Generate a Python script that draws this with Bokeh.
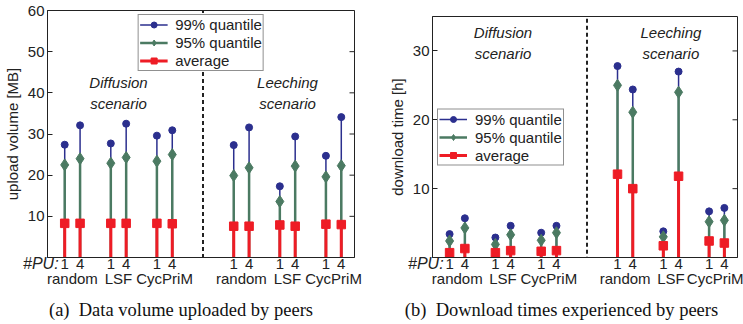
from bokeh.plotting import figure
from bokeh.models import (ColumnDataSource, FixedTicker, LinearAxis, Range1d, Legend,
                          LegendItem, Arrow, Div)
from bokeh.layouts import row, column
from bokeh.core.properties import value
from bokeh.embed import file_html
from bokeh.resources import INLINE

# ---------------- data ----------------
scenarios = ["Diffusion\nscenario", "Leeching\nscenario"]
groups = ["random", "LSF", "CycPriM"]
pu_labels = ["1", "4"]
pu_title = "#PU:"

# (a) upload volume [MB]; order: Diffusion(random1,random4,LSF1,LSF4,Cyc1,Cyc4), Leeching(...)
up_q99 = [27.4, 32.1, 27.7, 32.5, 29.6, 30.9, 27.3, 31.6, 17.3, 29.4, 24.7, 34.1]
up_q95 = [22.5, 24.0, 22.9, 24.3, 23.4, 25.0, 19.9, 21.8, 13.6, 22.2, 19.6, 22.3]
up_avg = [8.3, 8.3, 8.3, 8.3, 8.3, 8.2, 7.6, 7.6, 7.9, 7.6, 8.1, 8.0]

# (b) download time [h]
dl_q99 = [3.4, 5.7, 2.9, 4.6, 3.6, 4.6, 27.8, 24.4, 3.8, 27.0, 6.7, 7.2]
dl_q95 = [2.4, 4.3, 1.9, 3.3, 2.5, 3.6, 25.0, 21.1, 3.0, 24.0, 5.2, 5.4]
dl_avg = [0.7, 1.3, 0.7, 1.0, 0.9, 1.0, 12.1, 10.0, 1.7, 11.8, 2.4, 2.1]

series_names = ["99% quantile", "95% quantile", "average"]
up_yticks = [10, 20, 30, 40, 50, 60]
dl_yticks = [10, 20, 30]
captions = ["(a)&ensp;Data volume uploaded by peers",
            "(b)&ensp;Download times experienced by peers"]

FONT = "Liberation Sans"
SERIF = "Liberation Serif"
BLUE = "#2b2f8e"
GREEN = "#4b7a62"
RED = "#ee1c25"
INK = "#222222"

X0, X1 = -0.12, 19.86
FIG_H = 296
CAP_H = 324 - FIG_H

# slot positions (layout)
xs, pu_of = [], []
for s in range(len(scenarios)):
    for g in range(len(groups)):
        for k in range(len(pu_labels)):
            xs.append(1 + 11 * s + 3 * g + k)
            pu_of.append(pu_labels[k])
centers, center_names = [], []
for s in range(len(scenarios)):
    for g in range(len(groups)):
        centers.append(1 + 11 * s + 3 * g + 0.5)
        center_names.append(groups[g])
divider_x = (xs[5] + xs[6]) / 2.0
scen_x = [centers[1], centers[4]]


def panel(q99, q95, avg, ymax, yticks, ylabel, width, bl, br, bt,
          legend_loc, legend_margin, scen_y, div_bottom):
    p = figure(width=width, height=FIG_H, output_backend="svg", toolbar_location=None,
               x_range=Range1d(X0, X1), y_range=Range1d(0, ymax),
               min_border_left=bl, min_border_right=br, min_border_top=bt,
               min_border_bottom=39)
    p.xgrid.visible = False
    p.ygrid.visible = False
    p.outline_line_color = INK
    p.outline_line_width = 1
    p.background_fill_color = "white"
    p.border_fill_color = "white"

    src = ColumnDataSource(dict(x=xs, y0=[0] * len(xs), q99=q99, q95=q95, avg=avg))
    s99 = p.segment(x0="x", y0="y0", x1="x", y1="q99", source=src, line_color=BLUE, line_width=1.5)
    m99 = p.scatter(x="x", y="q99", source=src, marker="circle", size=7,
                    fill_color=BLUE, line_color=BLUE)
    s95 = p.segment(x0="x", y0="y0", x1="x", y1="q95", source=src, line_color=GREEN, line_width=2.5)
    m95 = p.scatter(x="x", y="q95", source=src, marker="diamond", size=12,
                    fill_color=GREEN, line_color=GREEN)
    sav = p.segment(x0="x", y0="y0", x1="x", y1="avg", source=src, line_color=RED, line_width=3)
    mav = p.scatter(x="x", y="avg", source=src, marker="square", size=8.5,
                    fill_color=RED, line_color=RED)

    # right-side inward tick marks (half of a dash clipped by the frame)
    tk = ColumnDataSource(dict(x=[X1] * len(yticks), y=yticks))
    p.scatter(x="x", y="y", source=tk, marker="dash", size=10, line_color=INK, line_width=1)

    # scenario labels
    tsrc = ColumnDataSource(dict(x=scen_x, y=[scen_y] * 2, t=scenarios))
    p.text(x="x", y="y", text="t", source=tsrc, text_font=value(FONT),
           text_font_size="15px", text_font_style="italic", text_align="center",
           text_baseline="middle", text_line_height=1.25, text_color=INK)

    # y axis
    ya = p.yaxis[0]
    ya.ticker = FixedTicker(ticks=yticks)
    ya.axis_label = ylabel
    ya.axis_label_text_font = FONT
    ya.axis_label_text_font_size = "15px"
    ya.axis_label_text_font_style = "normal"
    ya.axis_label_standoff = 4
    ya.major_label_text_font = FONT
    ya.major_label_text_font_size = "15px"
    ya.major_label_standoff = 3
    ya.major_tick_in = 5
    ya.major_tick_out = 0
    ya.minor_tick_line_color = None
    ya.axis_line_color = INK
    ya.major_tick_line_color = INK
    ya.major_label_text_color = INK
    ya.axis_label_text_color = INK

    # x axes: PU labels, "#PU:" (same row), then group names
    xa = p.xaxis[0]
    xa.ticker = FixedTicker(ticks=xs)
    xa.major_label_overrides = {x: t for x, t in zip(xs, pu_of)}
    xa.major_tick_in = 0
    xa.major_tick_out = 0
    xa.minor_tick_line_color = None
    xa.major_label_standoff = 1
    xa.major_label_text_font = FONT
    xa.major_label_text_font_size = "15px"
    xa.major_label_text_color = INK
    xa.axis_line_color = INK

    pu_tick = X0 + 0.001
    xp = LinearAxis(ticker=FixedTicker(ticks=[pu_tick]),
                    major_label_overrides={pu_tick: pu_title + "\u00a0\u00a0\u00a0"},
                    major_tick_in=0, major_tick_out=0, minor_tick_line_color=None,
                    axis_line_color=None, major_label_standoff=-17,
                    major_label_text_font=FONT, major_label_text_font_size="16px",
                    major_label_text_font_style="italic", major_label_text_color=INK)
    p.add_layout(xp, "below")

    xg = LinearAxis(ticker=FixedTicker(ticks=centers),
                    major_label_overrides={c: n for c, n in zip(centers, center_names)},
                    major_tick_in=0, major_tick_out=0, minor_tick_line_color=None,
                    axis_line_color=None, major_label_standoff=-5,
                    major_label_text_font=FONT, major_label_text_font_size="15px",
                    major_label_text_color=INK)
    p.add_layout(xg, "below")

    p.add_layout(Arrow(end=None, x_start=divider_x, y_start=div_bottom, x_end=divider_x,
                       y_end=ymax, line_color=INK, line_width=2, line_dash="4 3"))

    leg = Legend(items=[LegendItem(label=series_names[0], renderers=[s99, m99]),
                        LegendItem(label=series_names[1], renderers=[s95, m95]),
                        LegendItem(label=series_names[2], renderers=[sav, mav])],
                 location=legend_loc, label_text_font=FONT, label_text_font_size="15px",
                 label_text_color=INK, border_line_color=INK, border_line_width=1,
                 background_fill_alpha=1.0, glyph_width=28, glyph_height=15, spacing=1,
                 label_standoff=8, padding=1, margin=legend_margin, label_height=15,
                 title_standoff=0)
    p.add_layout(leg, "center")
    return p


def caption_div(html, width, shift):
    pad = "padding-left:%dpx;" % shift if shift > 0 else "padding-right:%dpx;" % (-shift)
    style = ("box-sizing:border-box;width:%dpx;height:%dpx;text-align:center;"
             "font-family:'%s';font-size:18.5px;line-height:20px;padding-top:4px;"
             "color:#111111;white-space:nowrap;%s" % (width, CAP_H, SERIF, pad))
    return Div(text='<div style="%s">%s</div>' % (style, html), width=width,
               height=CAP_H, margin=(0, 0, 0, 0))


pa = panel(up_q99, up_q95, up_avg, 60, up_yticks, "upload volume [MB]",
           370, 43, 16, 10, "top_center", 4, 40.0, -6.9)
pb = panel(dl_q99, dl_q95, dl_avg, 35, dl_yticks, "download time [h]",
           373, 62, 6, 16, "center_left", 5, 31.15, -4.55)

layout = row(column(pa, caption_div(captions[0], 370, -8)),
             column(pb, caption_div(captions[1], 373, 10)))
open("out.html", "w").write(file_html(layout, INLINE))
